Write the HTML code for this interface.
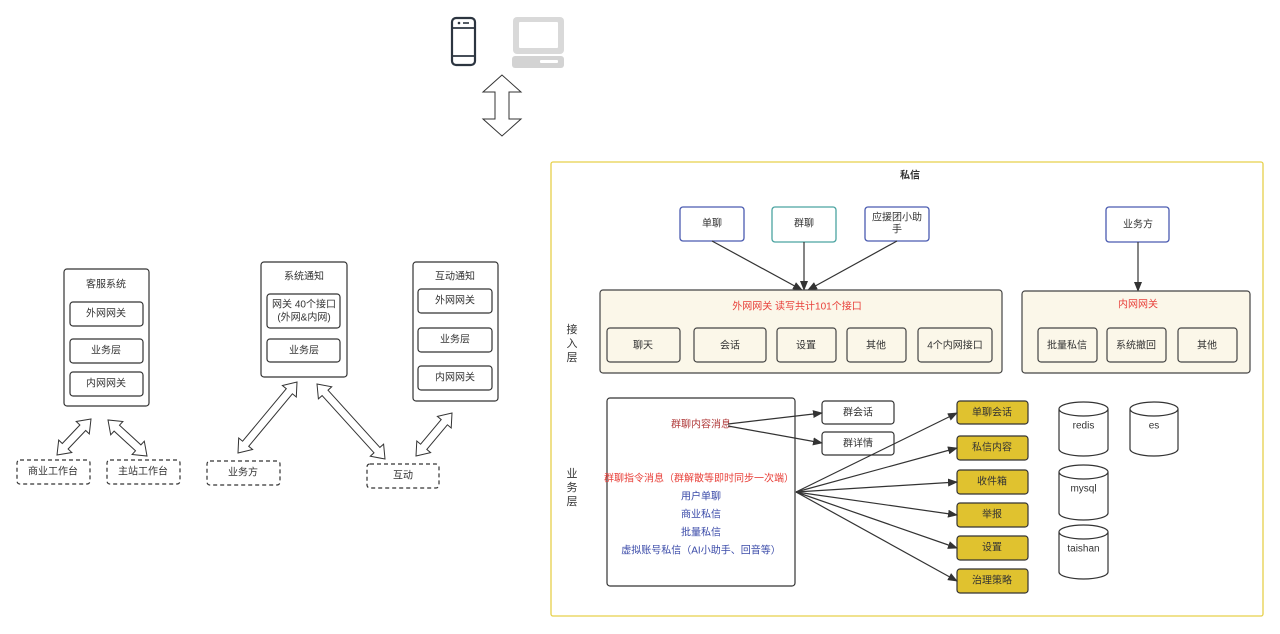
<!DOCTYPE html>
<html><head><meta charset="utf-8"><style>
html,body{margin:0;padding:0;background:#fff;width:1280px;height:634px;overflow:hidden}
svg{display:block}
text{font-family:"Liberation Sans","Noto Sans CJK SC",sans-serif;font-size:10px;fill:#333;text-anchor:middle;dominant-baseline:central}
.b{fill:#fff;stroke:#333;stroke-width:1.2}
.d{fill:#fff;stroke:#333;stroke-width:1.2;stroke-dasharray:4 3}
.y{fill:#e0c22f;stroke:#333;stroke-width:1.2}
.c{fill:#fbf7e9;stroke:#444;stroke-width:1.2}
.ln{stroke:#333;stroke-width:1.2;fill:none}
.blk{fill:#fff;stroke:#333;stroke-width:1}
</style></head><body>
<svg id="s" width="1280" height="634" viewBox="0 0 1280 634" xmlns="http://www.w3.org/2000/svg">
<defs><marker id="a" markerWidth="10" markerHeight="8" refX="9" refY="4" orient="auto" markerUnits="userSpaceOnUse"><path d="M0,0 L10,4 L0,8 z" fill="#333"/></marker></defs>

<!-- top icons -->
<rect x="452" y="18" width="23" height="47" rx="4" fill="none" stroke="#2c3540" stroke-width="2.2"/>
<line x1="452" y1="28" x2="475" y2="28" stroke="#2c3540" stroke-width="1.8"/>
<line x1="452" y1="56" x2="475" y2="56" stroke="#2c3540" stroke-width="1.8"/>
<circle cx="459" cy="23" r="1.3" fill="#2c3540"/><line x1="463" y1="23" x2="469" y2="23" stroke="#2c3540" stroke-width="1.6"/>
<rect x="513" y="17" width="51" height="37" rx="4" fill="#d9d9d9"/>
<rect x="519" y="22" width="39" height="26" rx="1" fill="#fff"/>
<rect x="512" y="56" width="52" height="12" rx="3" fill="#d3d3d3"/>
<rect x="540" y="60" width="18" height="3" rx="1" fill="#fff"/>

<!-- left systems -->
<rect class="b" x="64" y="269" width="85" height="137" rx="3"/>
<text x="106" y="285">客服系统</text>
<rect class="b" x="70" y="302" width="73" height="24" rx="3"/><text x="106" y="314">外网网关</text>
<rect class="b" x="70" y="339" width="73" height="24" rx="3"/><text x="106" y="351">业务层</text>
<rect class="b" x="70" y="372" width="73" height="24" rx="3"/><text x="106" y="384">内网网关</text>
<rect class="d" x="17" y="460" width="73" height="24" rx="3"/><text x="53" y="472">商业工作台</text>
<rect class="d" x="107" y="460" width="73" height="24" rx="3"/><text x="143" y="472">主站工作台</text>

<rect class="b" x="261" y="262" width="86" height="115" rx="3"/>
<text x="304" y="277">系统通知</text>
<rect class="b" x="267" y="294" width="73" height="34" rx="3"/><text x="304" y="305">网关 40个接口</text><text x="304" y="318">(外网&amp;内网)</text>
<rect class="b" x="267" y="339" width="73" height="23" rx="3"/><text x="304" y="351">业务层</text>

<rect class="b" x="413" y="262" width="85" height="139" rx="3"/>
<text x="455" y="277">互动通知</text>
<rect class="b" x="418" y="289" width="74" height="24" rx="3"/><text x="455" y="301">外网网关</text>
<rect class="b" x="418" y="328" width="74" height="24" rx="3"/><text x="455" y="340">业务层</text>
<rect class="b" x="418" y="366" width="74" height="24" rx="3"/><text x="455" y="378">内网网关</text>
<rect class="d" x="207" y="461" width="73" height="24" rx="3"/><text x="243" y="473">业务方</text>
<rect class="d" x="367" y="464" width="72" height="24" rx="3"/><text x="403" y="476">互动</text>

<g id="arrows"></g>

<!-- big frame -->
<rect x="551" y="162" width="712" height="454" rx="2" fill="none" stroke="#e6d04a" stroke-width="1.3"/>
<text x="910" y="176" style="font-weight:bold">私信</text>
<text x="572" y="330" style="font-size:11px">接</text><text x="572" y="344" style="font-size:11px">入</text><text x="572" y="358" style="font-size:11px">层</text>
<text x="572" y="474" style="font-size:11px">业</text><text x="572" y="488" style="font-size:11px">务</text><text x="572" y="502" style="font-size:11px">层</text>

<rect x="680" y="207" width="64" height="34" rx="3" fill="#fff" stroke="#4a5bb0" stroke-width="1.3"/><text x="712" y="224">单聊</text>
<rect x="772" y="207" width="64" height="35" rx="3" fill="#fff" stroke="#4aa3a0" stroke-width="1.3"/><text x="804" y="224">群聊</text>
<rect x="865" y="207" width="64" height="34" rx="3" fill="#fff" stroke="#4a5bb0" stroke-width="1.3"/><text x="897" y="218">应援团小助</text><text x="897" y="230">手</text>
<rect x="1106" y="207" width="63" height="35" rx="3" fill="#fff" stroke="#4a5bb0" stroke-width="1.3"/><text x="1138" y="225">业务方</text>
<line class="ln" x1="712" y1="241" x2="802" y2="290" marker-end="url(#a)"/>
<line class="ln" x1="804" y1="242" x2="804" y2="290" marker-end="url(#a)"/>
<line class="ln" x1="897" y1="241" x2="808" y2="290" marker-end="url(#a)"/>
<line class="ln" x1="1138" y1="242" x2="1138" y2="291" marker-end="url(#a)"/>

<rect class="c" x="600" y="290" width="402" height="83" rx="3"/>
<text x="797" y="307" style="fill:#e8403a">外网网关 读写共计101个接口</text>
<rect class="c" x="607" y="328" width="73" height="34" rx="3"/><text x="643" y="346">聊天</text>
<rect class="c" x="694" y="328" width="72" height="34" rx="3"/><text x="730" y="346">会话</text>
<rect class="c" x="777" y="328" width="59" height="34" rx="3"/><text x="806" y="346">设置</text>
<rect class="c" x="847" y="328" width="59" height="34" rx="3"/><text x="876" y="346">其他</text>
<rect class="c" x="918" y="328" width="74" height="34" rx="3"/><text x="955" y="346">4个内网接口</text>

<rect class="c" x="1022" y="291" width="228" height="82" rx="3"/>
<text x="1138" y="305" style="fill:#e8403a">内网网关</text>
<rect class="c" x="1038" y="328" width="59" height="34" rx="3"/><text x="1067" y="346">批量私信</text>
<rect class="c" x="1107" y="328" width="59" height="34" rx="3"/><text x="1136" y="346">系统撤回</text>
<rect class="c" x="1178" y="328" width="59" height="34" rx="3"/><text x="1207" y="346">其他</text>

<rect class="b" x="607" y="398" width="188" height="188" rx="3"/>
<text x="701" y="425" style="fill:#b03a3a">群聊内容消息</text>
<text x="699" y="479" style="fill:#e8403a">群聊指令消息（群解散等即时同步一次端）</text>
<text x="701" y="497" style="fill:#3a4aa8">用户单聊</text>
<text x="701" y="515" style="fill:#3a4aa8">商业私信</text>
<text x="701" y="533" style="fill:#3a4aa8">批量私信</text>
<text x="701" y="551" style="fill:#3a4aa8">虚拟账号私信（AI小助手、回音等）</text>

<rect class="b" x="822" y="401" width="72" height="23" rx="3"/><text x="858" y="413">群会话</text>
<rect class="b" x="822" y="432" width="72" height="23" rx="3"/><text x="858" y="444">群详情</text>
<line class="ln" x1="728" y1="424" x2="822" y2="413" marker-end="url(#a)"/>
<line class="ln" x1="728" y1="426" x2="822" y2="443" marker-end="url(#a)"/>

<rect class="y" x="957" y="401" width="71" height="23" rx="3"/><text x="992" y="413">单聊会话</text>
<rect class="y" x="957" y="436" width="71" height="24" rx="3"/><text x="992" y="448">私信内容</text>
<rect class="y" x="957" y="470" width="71" height="24" rx="3"/><text x="992" y="482">收件箱</text>
<rect class="y" x="957" y="503" width="71" height="24" rx="3"/><text x="992" y="515">举报</text>
<rect class="y" x="957" y="536" width="71" height="24" rx="3"/><text x="992" y="548">设置</text>
<rect class="y" x="957" y="569" width="71" height="24" rx="3"/><text x="992" y="581">治理策略</text>
<line class="ln" x1="796" y1="492" x2="957" y2="413" marker-end="url(#a)"/>
<line class="ln" x1="796" y1="492" x2="957" y2="448" marker-end="url(#a)"/>
<line class="ln" x1="796" y1="492" x2="957" y2="482" marker-end="url(#a)"/>
<line class="ln" x1="796" y1="492" x2="957" y2="515" marker-end="url(#a)"/>
<line class="ln" x1="796" y1="492" x2="957" y2="548" marker-end="url(#a)"/>
<line class="ln" x1="796" y1="492" x2="957" y2="581" marker-end="url(#a)"/>

<g id="cyl"></g>
</svg>
<script>
var ns="http://www.w3.org/2000/svg";
function dbl(x1,y1,x2,y2,w,h,hl){
 var dx=x2-x1,dy=y2-y1,L=Math.sqrt(dx*dx+dy*dy),ux=dx/L,uy=dy/L,px=-uy,py=ux;
 var pts=[[0,0],[hl,h],[hl,w],[L-hl,w],[L-hl,h],[L,0],[L-hl,-h],[L-hl,-w],[hl,-w],[hl,-h]];
 var s=pts.map(function(p){return (x1+ux*p[0]+px*p[1]).toFixed(1)+","+(y1+uy*p[0]+py*p[1]).toFixed(1)}).join(" ");
 var e=document.createElementNS(ns,"polygon");e.setAttribute("points",s);e.setAttribute("class","blk");
 document.getElementById("arrows").appendChild(e);
}
dbl(502,75,502,136,7,19,17);
dbl(57,455,91,419,4,9,12);
dbl(108,420,147,456,4,9,12);
dbl(238,453,297,382,4,9,12);
dbl(317,384,385,459,4,9,12);
dbl(416,456,452,413,4,9,12);
function cyl(x,y,w,h,t){
 var g=document.getElementById("cyl"),ry=7;
 var p=document.createElementNS(ns,"path");
 p.setAttribute("d","M"+x+","+(y+ry)+" A"+(w/2)+","+ry+" 0 0 1 "+(x+w)+","+(y+ry)+" L"+(x+w)+","+(y+h-ry)+" A"+(w/2)+","+ry+" 0 0 1 "+x+","+(y+h-ry)+" Z M"+x+","+(y+ry)+" A"+(w/2)+","+ry+" 0 0 0 "+(x+w)+","+(y+ry));
 p.setAttribute("class","b");g.appendChild(p);
 var tx=document.createElementNS(ns,"text");tx.setAttribute("x",x+w/2);tx.setAttribute("y",y+24);tx.textContent=t;g.appendChild(tx);
}
cyl(1059,402,49,54,"redis");cyl(1130,402,48,54,"es");cyl(1059,465,49,55,"mysql");cyl(1059,525,49,54,"taishan");
</script>
</body></html>
